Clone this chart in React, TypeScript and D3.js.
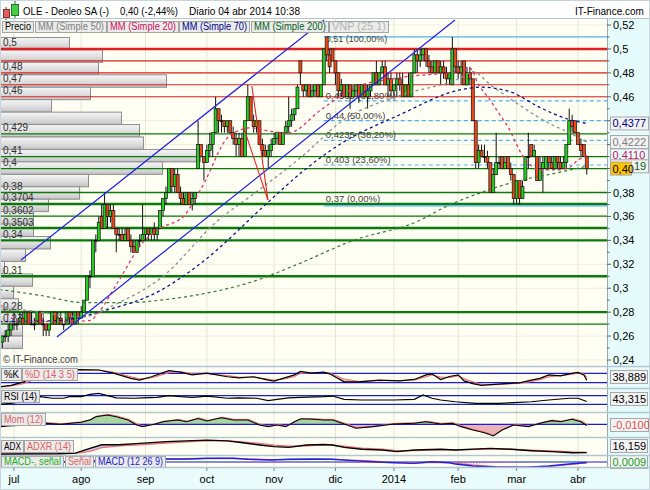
import React from "react";
import * as d3 from "d3";

const FONT = "'Liberation Sans', Arial, sans-serif";

// ---------- price bars [open, high, low, close] in cents ----------
const junBars = [[26,26.5,25,25.5],[25.5,26,25,26],[26,26.5,25.5,26],[26,27,25.5,26.5],[26.5,27,26,27]];
const julBars = [[27,28,26.5,27],[27,27.5,26.5,27],[27,28,27,27.5],[27.5,28,27,27],[27,28,27,28],[28,28,27,27],[27,28,27,27],[27,27.5,26.5,27],[27,28,27,28],[28,28,27,27],[27,27.5,26,27],[27,27,26,26.5],[26.5,27,26,27],[27,28,27,28],[28,28,27,27],[27,28,27,27.5],[27.5,28,27,27],[27,27,26.5,27],[27,28,27,28],[28,28,27,27.5],[27.5,28,27,27],[27,28,27,28],[28,28,27,27.5]];
const augBars = [[27.5,28.5,27.5,28],[28,29,28,29],[29,31,29,31],[31,31.5,30,31],[31,34,31,34],[34,34.5,33,34],[34,36,34,35.5],[36,37,35,35],[35,38,35,37],[37,37,35,36],[36,37,35.5,36.5],[36.5,37,35,35],[35,35,33,34.5],[34.5,35,34,34.5],[34.5,35,34,34],[34,35,34,34.5],[35,35,34,34],[34,34.5,33,33.5],[33.5,34,33,33],[33,34,33,34],[34,34.5,33.5,34],[34,37,34,34.5]];
const sepBars = [[34.5,35,34,35],[35,35,34,34.5],[34.5,35,34,35],[35,35.5,34,34.5],[34.5,35,34,35],[35,36.5,35,36.5],[36.5,37.5,36,37.5],[37.5,38.5,37,38],[38,40,38,40],[40,40,38,38.5],[38.5,40,38,39.5],[39.5,40,38,38],[38,38.5,37,37.5],[37.5,38,37,37],[37,38,37,38],[38,38,37,37],[37,38,36.5,37.5],[37.5,38,37,38],[40,44,40,42],[42,42,41,41],[41,41,39,40.5]];
const octBars = [[40.5,42,40.5,41.5],[41.5,43,41,42],[42,43,41,43],[43,46,43,45],[45,45,43,44],[44,44.5,43,44],[44,44,43,43.5],[43.5,44,43,44],[44,44,43,43],[43,43.5,42,42.5],[42.5,43,41,42],[42,43,41,42.5],[42.5,43,41,41],[41,44,41,44],[44,47,44,46],[46,46,44,44],[44,44.5,43,43.5],[43.5,44,43,44],[44,44,42,42],[42,42.5,41,41.5],[41.5,42,41,41],[41,42,40,41.5],[41.5,42.5,41,42]];
const novBars = [[42,43,42,42.5],[42.5,43,42,43],[43,43,42,42],[42,43,42,43],[43,44,43,43.5],[43.5,46,43,44],[44,45,43.5,44.5],[44.5,45,44,45],[45,47,45,46.8],[49,49,47,48],[47,47,46,46.5],[46.5,47,46,47],[47,47,46,46],[46,47,46,46.5],[46.5,47,46,47],[47,47,46,46],[46,47,46,47],[47,50,47,50],[51,51,49,49.5],[49.5,50,48,48.5],[50,50,49,49]];
const decBars = [[49,49,47,48],[48,48,46,46.5],[46.5,47.5,46,47],[47,47,46,46],[46,47,46,47],[47,47,45,46],[46,47,46,46.5],[46.5,47,46,47],[47,47,45.5,46],[46,47,46,47],[47,47,46,46],[46,47,45,46.5],[46.5,47,46,47],[47,48,47,48],[48,49,47,47],[47,48,47,48],[48,49,48,48.5],[48.5,49,47,47],[47,48,46,47.5],[47.5,48,46,46.5]];
const janBars = [[46.5,47,46,47],[47,48,46,47.5],[47.5,48,46.5,47],[47,48,46,46],[46,47,46,47],[47,48,46,46],[46,48,46,48],[48,50,48,49.5],[49.5,50,48,49],[49,50,48.5,49.5],[49.5,50,49,50],[50,50,48.5,49],[49,49.5,48,48.5],[48.5,49,48,48],[48,49,48,49],[49,49,48,48],[48,49,47,48.5],[48.5,49,47.5,48],[48,48.5,47,47.5],[47.5,48,47,48],[47,51,47,50],[50,50,48,48.5]];
const febBars = [[48.5,49,47.5,48],[48,49,47,48.5],[49,49,47,47],[47,48.5,47,48],[48,48.5,47,47.5],[47.5,47.5,44,44],[44,44,40,40.5],[40.5,42,40,41.5],[41.5,42,41,41],[41,42,40.5,41],[41,41.5,40,40.5],[40.5,40.5,38,38],[38,40,38,39.5],[39.5,43,39.5,40.5],[40.5,41,40,40.5],[41,41,40,40],[40,41,40,40.5],[41,41,40,40],[40,40.5,39,39.5],[39.5,39.5,37,37.5]];
const marBars = [[37.5,39,37,39],[39,39,37,37.5],[37.5,39,37.5,38.5],[39,41,39,41],[41,43,40,41],[42,42,41,41],[41,42,41,41.5],[41,41,39,39],[39,41,39,40],[40,41,38,40.5],[40,41,40,41],[41,41,40,40.5],[40.5,41,40,40],[40,41,40,41],[41,41,40,40.5],[40.5,41,40,40],[40,41,40,40.5],[40.5,41,40,42],[42,45,42,44],[44,44.5,43,43.5],[44,44,43,43]];
const aprBars = [[43,43,42,42],[42,42.5,41,41.5],[42,42,41,41],[41,41,39.5,40]];

// ---------- axis ----------
const monthLabels = ["jul", "ago", "sep", "oct", "nov", "dic", "2014", "feb", "mar", "abr"];
const monthStarts = [5, 28, 50, 71, 94, 115, 135, 157, 177, 198];
const priceTicks = [0.24, 0.26, 0.28, 0.3, 0.32, 0.34, 0.36, 0.38, 0.4, 0.42, 0.44, 0.46, 0.48, 0.5, 0.52];
// tick labels hidden behind the last-value boxes on the right axis
const coveredTicks = [0.4, 0.42, 0.44];

// ---------- moving averages [barIndex, price] ----------
const mm20 = [[0,0.287],[7,0.272],[21,0.272],[31,0.273],[34,0.280],[41,0.307],[49,0.338],[55,0.350],[63,0.360],[69,0.383],[79,0.428],[86,0.434],[93,0.431],[99,0.430],[110,0.449],[117,0.461],[122,0.468],[137,0.476],[158,0.482],[161,0.484],[164,0.47],[168,0.457],[171,0.446],[174,0.435],[179,0.411],[185,0.399],[191,0.399],[195,0.401],[198,0.407],[201,0.411]];
const mm50 = [[0,0.285],[20,0.278],[28,0.276],[41,0.288],[55,0.308],[75,0.357],[86,0.377],[103,0.409],[118,0.441],[137,0.461],[158,0.476],[162,0.481],[168,0.47],[178,0.453],[188,0.438],[195,0.43],[201,0.4222]];
const mm70 = [[0,0.272],[21,0.273],[34,0.280],[55,0.298],[69,0.321],[92,0.372],[103,0.396],[117,0.421],[137,0.445],[158,0.466],[165,0.468],[175,0.464],[185,0.451],[195,0.441],[201,0.4377]];
const mm200 = [[0,0.299],[14,0.294],[29,0.288],[45,0.288],[55,0.29],[69,0.295],[86,0.305],[103,0.321],[120,0.339],[145,0.358],[151,0.366],[166,0.381],[178,0.39],[190,0.396],[201,0.4019]];

// ---------- drawn lines ----------
const channelLines = [[[7.4, 0.3236], [111.1, 0.5242]], [[19.7, 0.2592], [155.9, 0.5242]]];
const redTrendLines = [[[86.4, 0.469], [91.9, 0.3737]], [[83.4, 0.4357], [91.9, 0.3737]]];
const redLevels = [0.5, 0.49, 0.48, 0.47, 0.46];
const greenLevels = [0.429, 0.41, 0.4, 0.38, 0.3704, 0.3602, 0.3503, 0.34, 0.31, 0.28, 0.27];
const thickGreen = [0.3704, 0.3503, 0.34, 0.31, 0.28];
const levelLabels = ["0,5", "0,48", "0,47", "0,46", "0,429", "0,41", "0,4", "0,38", "0,3704", "0,3602", "0,3503", "0,34", "0,31", "0,28", "0,27"];
const levelLabelValues = [0.5, 0.48, 0.47, 0.46, 0.429, 0.41, 0.4, 0.38, 0.3704, 0.3602, 0.3503, 0.34, 0.31, 0.28, 0.27];
const fibLevels = [0.51, 0.4565, 0.44, 0.4235, 0.403, 0.37];
const fibTexts = ["0,51 (100,00%)", "0,4565 (61,80%)", "0,44 (50,00%)", "0,4235 (38,20%)", "0,403 (23,60%)", "0,37 (0,00%)"];
const fibStart = 111;

// ---------- volume profile (top bin first) ----------
const vpTop = 0.51;
const vpStep = 0.0104;
const vpVolumes = [34.5, 51, 49, 83, 45, 25.5, 60.5, 69.5, 71.5, 100, 81, 44, 39.5, 24, 16.5, 16.5, 25, 12.5, 2, 16, 6.5, 9, 21.5, 11, 11];

// ---------- indicators [barIndex, value] ----------
const stochK = [[0,7],[4,15],[8,30],[12,55],[17,78],[22,88],[27,90],[34,88],[39,73],[45,48],[48,40],[52,56],[58,85],[62,78],[66,65],[71,73],[78,56],[82,51],[87,56],[92,40],[94,35],[97,48],[101,65],[103,81],[107,73],[111,78],[113,70],[118,32],[123,32],[130,40],[137,36],[142,43],[146,65],[148,70],[151,43],[154,57],[157,65],[159,36],[162,23],[165,15],[168,18],[173,23],[178,27],[182,40],[185,48],[188,65],[192,60],[195,70],[198,77],[200,65],[201,39]];
const stochD = [[0,10],[4,12],[8,22],[12,42],[17,68],[22,84],[27,89],[34,88],[39,78],[45,56],[48,46],[52,50],[58,75],[62,80],[66,70],[71,70],[78,62],[82,54],[87,54],[92,45],[94,40],[97,44],[101,56],[103,72],[107,76],[111,77],[113,74],[118,45],[123,34],[130,37],[137,38],[142,40],[146,55],[148,64],[151,55],[154,52],[157,60],[159,48],[162,32],[165,20],[168,17],[173,20],[178,25],[182,33],[185,42],[188,55],[192,62],[195,66],[198,73],[200,72],[201,55]];
const rsi = [[0,30],[4,35],[10,48],[14,65],[18,58],[22,58],[24,65],[28,65],[31,76],[34,80],[37,70],[40,60],[46,58],[49,60],[54,62],[58,70],[62,65],[66,62],[71,68],[78,58],[82,60],[88,58],[92,47],[95,53],[99,60],[103,62],[111,65],[114,68],[118,53],[124,50],[135,50],[142,53],[145,73],[148,58],[151,50],[156,42],[163,35],[171,35],[176,38],[182,42],[188,50],[195,58],[198,58],[201,43]];
const mom = [[0,-0.02],[3,-0.015],[10,-0.005],[14,0.005],[16,0.009],[21,0],[28,0.017],[31,0.037],[33,0.065],[37,0.08],[40,0.065],[44,0.037],[47,-0.006],[49,-0.02],[53,0],[56,0.022],[61,0.037],[64,0.022],[68,0.05],[71,0.028],[76,0.056],[80,0.037],[85,0.037],[89,-0.006],[92,-0.02],[95,-0.006],[98,-0.02],[101,0.022],[103,0.045],[106,0.045],[111,0.037],[114,0.037],[118,0.003],[122,-0.034],[128,-0.02],[135,0.003],[142,0.009],[146,0.022],[151,0.003],[155,0.009],[158,-0.02],[162,-0.049],[166,-0.072],[169,-0.1],[172,-0.049],[176,-0.006],[181,-0.02],[185,0.009],[189,0.031],[192,0.022],[196,0.043],[199,0.022],[201,-0.01]];
const adx = [[0,12],[20,13],[26,15],[31,28],[35,38],[41,38],[48,42],[57,47],[64,49],[71,51],[78,49],[82,45],[89,37.5],[94,33],[99,31],[105,37.5],[111,39],[114,37.5],[118,31],[124,25.5],[131,23.6],[136,19],[142,23.6],[151,25.5],[156,23.6],[168,28],[175,25.5],[182,21.7],[189,19],[196,16],[201,16.2]];
const adxr = [[0,14],[20,13],[26,14],[31,20],[35,30],[41,35],[48,38],[57,43],[64,46],[71,49],[78,49],[82,47],[89,42],[94,37],[99,34],[105,35],[111,37],[114,37],[118,34],[124,29],[131,26],[136,22],[142,22],[151,24],[156,24],[168,26],[175,26],[182,23],[189,21],[196,18],[201,17]];
const macd = [[0,-0.005],[20,0],[35,0.01],[50,0.018],[57,0.02],[64,0.02],[71,0.025],[80,0.025],[85,0.018],[93,0.013],[99,0.018],[108,0.02],[114,0.018],[121,0.009],[128,0.002],[135,-0.005],[142,-0.009],[148,0.002],[154,-0.005],[156,-0.013],[162,-0.027],[171,-0.035],[181,-0.035],[188,-0.027],[195,-0.013],[200,-0.005],[201,-0.004]];
const macdSignal = [[0,-0.003],[20,-0.002],[35,0.005],[50,0.015],[57,0.018],[64,0.02],[71,0.022],[80,0.024],[85,0.021],[93,0.016],[99,0.016],[108,0.018],[114,0.018],[121,0.012],[128,0.005],[135,-0.002],[142,-0.007],[148,-0.002],[154,-0.004],[156,-0.008],[162,-0.02],[171,-0.032],[181,-0.035],[188,-0.03],[195,-0.018],[200,-0.008],[201,-0.006]];
const macdHist = [[0,-0.002],[20,0.002],[35,0.005],[50,0.003],[57,0.002],[64,0.001],[71,0.003],[80,0.001],[85,-0.003],[93,-0.003],[99,0.002],[108,0.002],[114,0.001],[121,-0.003],[128,-0.003],[135,-0.003],[142,-0.002],[148,0.004],[154,-0.001],[156,-0.005],[162,-0.007],[171,-0.003],[181,0.001],[188,0.003],[195,0.005],[200,0.003],[201,0.001]];

const legendButtons = [
  { t: "Precio", x: 2, w: 31, c: "#000000" },
  { t: "MM (Simple 50)", x: 35, w: 71, c: "#808080" },
  { t: "MM (Simple 20)", x: 107, w: 71, c: "#d0105a" },
  { t: "MM (Simple 70)", x: 179, w: 70, c: "#00008b" },
  { t: "MM (Simple 200)", x: 251, w: 77, c: "#006020" },
  { t: "VNP (25 1)", x: 329, w: 59, c: "#b4b4b4" },
];

const fmt = (v: number) => String(+v.toFixed(2)).replace(".", ",");

function Btn({ x, y, w, h, t, c, fs = 10.5 }: any) {
  return (
    <g>
      <rect x={x + 0.5} y={y + 0.5} width={w} height={h} fill="#ebebeb" stroke="#a4a4a4" />
      <text x={x + 3} y={y + h - 2} fontSize={fs} fill={c} textLength={w - 5} lengthAdjust="spacingAndGlyphs">{t}</text>
    </g>
  );
}

function ValBox({ x, y, w, t, c, bg = "#f2f2f2", tx }: any) {
  return (
    <g>
      <rect x={x + 0.5} y={y - 6.5} width={w} height={13} fill={bg} stroke="#a8a8a8" />
      <text x={tx ?? x + 2.5} y={y + 4} fontSize={11} fill={c}>{t}</text>
    </g>
  );
}

export default function App() {
  const allBars = [...junBars, ...julBars, ...augBars, ...sepBars, ...octBars, ...novBars, ...decBars, ...janBars, ...febBars, ...marBars, ...aprBars];
  const bars = allBars.map((b, i) => ({ i, o: b[0] / 100, h: b[1] / 100, l: b[2] / 100, c: b[3] / 100 }));

  const x = d3.scaleLinear().domain([5, 198]).range([14, 578]);
  const y = d3.scaleLinear().domain([0.24, 0.52]).range([360, 25]);
  const vol = d3.scaleLinear().domain([0, 100]).range([0, 200]);

  const maLine = d3.line<number[]>().x((d) => x(d[0])).y((d) => y(d[1])).curve(d3.curveMonotoneX);
  const straight = d3.line<number[]>().x((d) => x(d[0])).y((d) => y(d[1]));

  const kY = d3.scaleLinear().domain([0, 100]).range([388.5, 367.5]);
  const rsiY = d3.scaleLinear().domain([0, 100]).range([411, 389]);
  const momY = d3.scaleLinear().domain([-0.1, 0.1]).range([436, 412.6]);
  const adxY = d3.scaleLinear().domain([0, 50]).range([458.5, 440.5]);
  const macdY = d3.scaleLinear().domain([-0.04, 0.04]).range([468, 456]);

  const mk = (sy: any) => d3.line<number[]>().x((d) => x(d[0])).y((d) => sy(d[1])).curve(d3.curveLinear);
  const kdArea = d3.area<number>().x((j) => x(stochK[j][0])).y0((j) => kY(stochK[j][1])).y1((j) => kY(stochD[j][1]));
  const adxArea = d3.area<number>().x((j) => x(adx[j][0])).y0((j) => adxY(adx[j][1])).y1((j) => adxY(adxr[j][1]));
  const momArea = d3.area<number[]>().x((d) => x(d[0])).y0(momY(0)).y1((d) => momY(d[1]));

  const PW = 607;
  const blue = "#1c1cdc";
  const panelBorder = "#b2c6d2";
  const cream = "#fffff4";
  const cyan = "#e6fcfc";

  const vpBins = vpVolumes.map((v, k) => ({ hi: vpTop - k * vpStep, lo: vpTop - (k + 1) * vpStep, v }));

  return (
    <svg width={650} height={490} style={{ position: "absolute", left: 0, top: 0 }} fontFamily={FONT}>
      <defs>
        <clipPath id="main"><rect x={0} y={19} width={PW} height={348} /></clipPath>
        <clipPath id="p1"><rect x={0} y={367} width={PW} height={21} /></clipPath>
        <clipPath id="p2"><rect x={0} y={389} width={PW} height={23} /></clipPath>
        <clipPath id="p3"><rect x={0} y={413} width={PW} height={24} /></clipPath>
        <clipPath id="p3up"><rect x={0} y={413} width={PW} height={momY(0) - 413} /></clipPath>
        <clipPath id="p3dn"><rect x={0} y={momY(0)} width={PW} height={437 - momY(0)} /></clipPath>
        <clipPath id="p4"><rect x={0} y={438} width={PW} height={17} /></clipPath>
        <clipPath id="p5"><rect x={0} y={456} width={PW} height={11} /></clipPath>
        <clipPath id="p5up"><rect x={0} y={456} width={PW} height={macdY(0) - 456} /></clipPath>
        <clipPath id="p5dn"><rect x={0} y={macdY(0)} width={PW} height={467 - macdY(0)} /></clipPath>
        <linearGradient id="vpg" x1="0" y1="0" x2="0" y2="1">
          <stop offset="0" stopColor="#f6f6f6" />
          <stop offset="0.6" stopColor="#dcdcdc" />
          <stop offset="1" stopColor="#c2c2c2" />
        </linearGradient>
      </defs>

      {/* backgrounds */}
      <rect x={0} y={0} width={650} height={490} fill="#ffffff" />
      <rect x={0} y={19} width={PW} height={348} fill={cream} />
      <rect x={PW} y={19} width={650 - PW} height={348} fill={cyan} />
      {[[367, 21], [389, 23], [413, 24], [438, 17], [456, 11]].map(([t, h], k) => (
        <g key={k}>
          <rect x={0} y={t} width={PW} height={h} fill={cream} />
          <rect x={PW} y={t} width={650 - PW} height={h} fill={cyan} />
        </g>
      ))}
      <rect x={0} y={468} width={650} height={22} fill="#eafcfc" />

      {/* header */}
      <line x1={6} x2={6} y1={7} y2={20} stroke="#703030" />
      <rect x={3.5} y={9.5} width={6} height={8} fill="#e06060" stroke="#803030" />
      <line x1={15} x2={15} y1={1} y2={19} stroke="#306030" />
      <rect x={11.5} y={4.5} width={7} height={11} fill="#40d040" stroke="#307030" />
      <text x={23} y={15} fontSize={11.5} textLength={86} lengthAdjust="spacingAndGlyphs">OLE - Deoleo SA (-)</text>
      <text x={120} y={15} fontSize={11.5} textLength={58} lengthAdjust="spacingAndGlyphs">0,40 (-2,44%)</text>
      <text x={189} y={15} fontSize={11.5} textLength={111} lengthAdjust="spacingAndGlyphs">Diario  04 abr 2014 10:38</text>
      <text x={575} y={15} fontSize={10}>IT-Finance.com</text>

      {/* grid */}
      {monthStarts.map((m, k) => (
        <line key={k} x1={x(m)} x2={x(m)} y1={19} y2={467} stroke="#e4e4d6" />
      ))}
      {priceTicks.map((p, k) => (
        <line key={k} x1={0} x2={PW} y1={y(p)} y2={y(p)} stroke="#ececde" />
      ))}

      <g clipPath="url(#main)">
        {/* volume profile */}
        {vpBins.map((b, k) => (
          <rect key={k} x={0.5} y={y(b.hi) + 0.5} width={Math.max(vol(b.v), 1)} height={y(b.lo) - y(b.hi)} fill="url(#vpg)" stroke="#8e8e8e" />
        ))}
        {levelLabels.map((t, k) => (
          <text key={k} x={3} y={y(levelLabelValues[k]) - 2.5} fontSize={10} fill="#303030">{t}</text>
        ))}

        {/* support / resistance */}
        {redLevels.map((p, k) => (
          <line key={k} x1={0} x2={PW} y1={y(p)} y2={y(p)} stroke="#e02020" strokeWidth={p === 0.5 ? 2.6 : 1.1} />
        ))}
        {greenLevels.map((p, k) => (
          <line key={k} x1={0} x2={PW} y1={y(p)} y2={y(p)} stroke="#0b7a0b" strokeWidth={thickGreen.includes(p) ? 2.4 : 1.3} />
        ))}

        {/* fibonacci */}
        {fibLevels.map((p, k) => (
          <line key={k} x1={x(fibStart)} x2={PW} y1={y(p) + (p === 0.37 ? 1.5 : 0)} y2={y(p) + (p === 0.37 ? 1.5 : 0)} stroke="#4ab4f0" strokeWidth={1.2}
            strokeDasharray={p === 0.51 || p === 0.37 ? undefined : "4,3"} />
        ))}
        {fibLevels.map((p, k) => (
          <text key={k} x={x(fibStart) + 2} y={p === 0.51 ? y(p) + 5 : y(p) - 2} fontSize={p === 0.51 ? 9 : 9.5} fill="#404040">{fibTexts[k]}</text>
        ))}

        {/* candles */}
        {bars.map((b) => {
          const cx = x(b.i);
          const top = y(Math.max(b.o, b.c));
          const bot = y(Math.min(b.o, b.c));
          const fill = b.c > b.o ? "#22d022" : b.c < b.o ? "#f04818" : "#000";
          return (
            <g key={b.i}>
              <line x1={cx} x2={cx} y1={y(b.h)} y2={y(b.l)} stroke="#111" strokeWidth={1} />
              <rect x={cx - 1.5} y={top} width={3} height={Math.max(bot - top, 0.8)} fill={fill} stroke="#111" strokeWidth={0.7} />
            </g>
          );
        })}

        {/* moving averages */}
        <path d={maLine(mm200) || ""} fill="none" stroke="#2e7d32" strokeWidth={1.2} strokeDasharray="3,3" />
        <path d={maLine(mm70) || ""} fill="none" stroke="#10108a" strokeWidth={1.3} strokeDasharray="3,3" />
        <path d={maLine(mm50) || ""} fill="none" stroke="#8c8c8c" strokeWidth={1.3} strokeDasharray="3,3" />
        <path d={maLine(mm20) || ""} fill="none" stroke="#e0306e" strokeWidth={1.3} strokeDasharray="3,3" />

        {/* trend lines */}
        {channelLines.map((l, k) => (
          <path key={k} d={straight(l) || ""} stroke="#2020e8" strokeWidth={1.2} fill="none" />
        ))}
        {redTrendLines.map((l, k) => (
          <path key={k} d={straight(l) || ""} stroke="#f02020" strokeWidth={1.1} fill="none" />
        ))}

        <text x={3} y={363} fontSize={11} fill="#404040" textLength={75} lengthAdjust="spacingAndGlyphs">© IT-Finance.com</text>
      </g>

      {/* legend buttons */}
      {legendButtons.map((b, k) => (
        <Btn key={k} x={b.x} y={21} w={b.w} h={11} t={b.t} c={b.c} />
      ))}

      {/* right axis */}
      <line x1={PW + 0.5} x2={PW + 0.5} y1={19} y2={467} stroke="#9aa8b0" />
      {d3.range(24, 53).map((c) => (
        <line key={c} x1={PW} x2={PW + (c % 2 === 0 ? 4 : 2.5)} y1={y(c / 100)} y2={y(c / 100)} stroke="#606060" />
      ))}
      {priceTicks.filter((p) => !coveredTicks.includes(p)).map((p, k) => (
        <text key={k} x={613} y={y(p) + 4} fontSize={11} fill="#000">{fmt(p)}</text>
      ))}
      <ValBox x={610} y={y(0.4377)} w={38} t="0,4377" c="#00008b" />
      <ValBox x={610} y={y(0.4222)} w={38} t="0,4222" c="#808080" />
      <ValBox x={610} y={y(0.411)} w={38} t="0,4110" c="#d0105a" bg={cyan} />
      {/* MA200 last value box, partly covered by the price box: only "19" shows */}
      <ValBox x={610} y={y(0.4019)} w={38} t="19" c="#006020" tx={634} />
      <ValBox x={610} y={y(0.4)} w={21} t="0,40" c="#000" bg="#ffc400" />

      {/* %K / %D panel */}
      <g clipPath="url(#p1)">
        <path d={kdArea(d3.range(stochK.length)) || ""} fill="#f3b4b4" opacity={0.85} />
        <line x1={0} x2={PW} y1={kY(72)} y2={kY(72)} stroke={blue} strokeWidth={1.3} />
        <line x1={0} x2={PW} y1={kY(28)} y2={kY(28)} stroke={blue} strokeWidth={1.3} />
        <path d={mk(kY)(stochD) || ""} fill="none" stroke="#f07070" strokeWidth={1} />
        <path d={mk(kY)(stochK) || ""} fill="none" stroke="#000" strokeWidth={1.2} />
      </g>
      <Btn x={1} y={368} w={20} h={12} t="%K" c="#000" fs={11} />
      <Btn x={22} y={368} w={55} h={12} t="%D (14 3 5)" c="#e06060" fs={11} />
      <ValBox x={610} y={377} w={37} t="38,889" c="#000" />

      {/* RSI panel */}
      <g clipPath="url(#p2)">
        <line x1={0} x2={PW} y1={rsiY(70)} y2={rsiY(70)} stroke={blue} strokeWidth={1.3} />
        <line x1={0} x2={PW} y1={rsiY(30)} y2={rsiY(30)} stroke={blue} strokeWidth={1.3} />
        <path d={mk(rsiY)(rsi) || ""} fill="none" stroke="#000" strokeWidth={1.2} />
      </g>
      <Btn x={1} y={390} w={38} h={12} t="RSI (14)" c="#000" fs={11} />
      <ValBox x={610} y={399} w={37} t="43,315" c="#000" />

      {/* Momentum panel */}
      <g clipPath="url(#p3)">
        <path d={momArea(mom) || ""} fill="#a9d5a0" clipPath="url(#p3up)" />
        <path d={momArea(mom) || ""} fill="#ebb4b4" clipPath="url(#p3dn)" />
        <line x1={0} x2={PW} y1={momY(0)} y2={momY(0)} stroke={blue} strokeWidth={1.3} />
        <path d={mk(momY)(mom) || ""} fill="none" stroke="#f07070" strokeWidth={1} transform="translate(1,-0.6)" />
        <path d={mk(momY)(mom) || ""} fill="none" stroke="#000" strokeWidth={1.1} />
      </g>
      <Btn x={1} y={413} w={44} h={12} t="Mom (12)" c="#e06060" fs={11} />
      <ValBox x={610} y={425} w={38} t="-0,0100" c="#e05050" />

      {/* ADX panel */}
      <g clipPath="url(#p4)">
        <path d={adxArea(d3.range(adx.length)) || ""} fill="#c4c4f0" />
        <path d={mk(adxY)(adxr) || ""} fill="none" stroke="#f07070" strokeWidth={1.3} />
        <path d={mk(adxY)(adx) || ""} fill="none" stroke="#000" strokeWidth={1.4} />
      </g>
      <Btn x={1} y={440} w={22} h={12} t="ADX" c="#000" fs={11} />
      <Btn x={24} y={440} w={49} h={12} t="ADXR (14)" c="#e06060" fs={11} />
      <ValBox x={610} y={446} w={37} t="16,159" c="#000" />

      {/* MACD panel */}
      <g clipPath="url(#p5)">
        <line x1={0} x2={PW} y1={macdY(0)} y2={macdY(0)} stroke={blue} strokeWidth={1.2} />
        <path d={mk(macdY)(macdHist) || ""} fill="none" stroke="#30c030" strokeWidth={1} strokeDasharray="1,2" clipPath="url(#p5up)" />
        <path d={mk(macdY)(macdHist) || ""} fill="none" stroke="#e04040" strokeWidth={1} strokeDasharray="1,2" clipPath="url(#p5dn)" />
        <path d={mk(macdY)(macdSignal) || ""} fill="none" stroke="#f07070" strokeWidth={1.3} />
        <path d={mk(macdY)(macd) || ""} fill="none" stroke="#2020e0" strokeWidth={1.4} />
      </g>
      <Btn x={1} y={456} w={62} h={11} t="MACD-, señal" c="#22b022" fs={10.5} />
      <Btn x={65} y={456} w={28} h={11} t="Señal" c="#e06060" fs={10.5} />
      <Btn x={95} y={456} w={70} h={11} t="MACD (12 26 9)" c="#2020d0" fs={10.5} />
      <ValBox x={610} y={462} w={37} t="0,0009" c="#22a022" />

      {/* panel borders */}
      {[18.5, 366.5, 388.5, 412.5, 437.5, 455.5, 467.5].map((v, k) => (
        <line key={k} x1={0} x2={650} y1={v} y2={v} stroke={panelBorder} strokeWidth={k === 0 ? 1 : 1.6} />
      ))}
      <rect x={0.5} y={0.5} width={649} height={489} fill="none" stroke="#c8d4dc" />

      {/* x axis */}
      {monthStarts.map((m, k) => (
        <g key={k}>
          <line x1={x(m)} x2={x(m)} y1={468} y2={471} stroke="#808080" />
          <text x={x(m)} y={483} fontSize={11} textAnchor="middle" fill="#000">{monthLabels[k]}</text>
        </g>
      ))}
    </svg>
  );
}
